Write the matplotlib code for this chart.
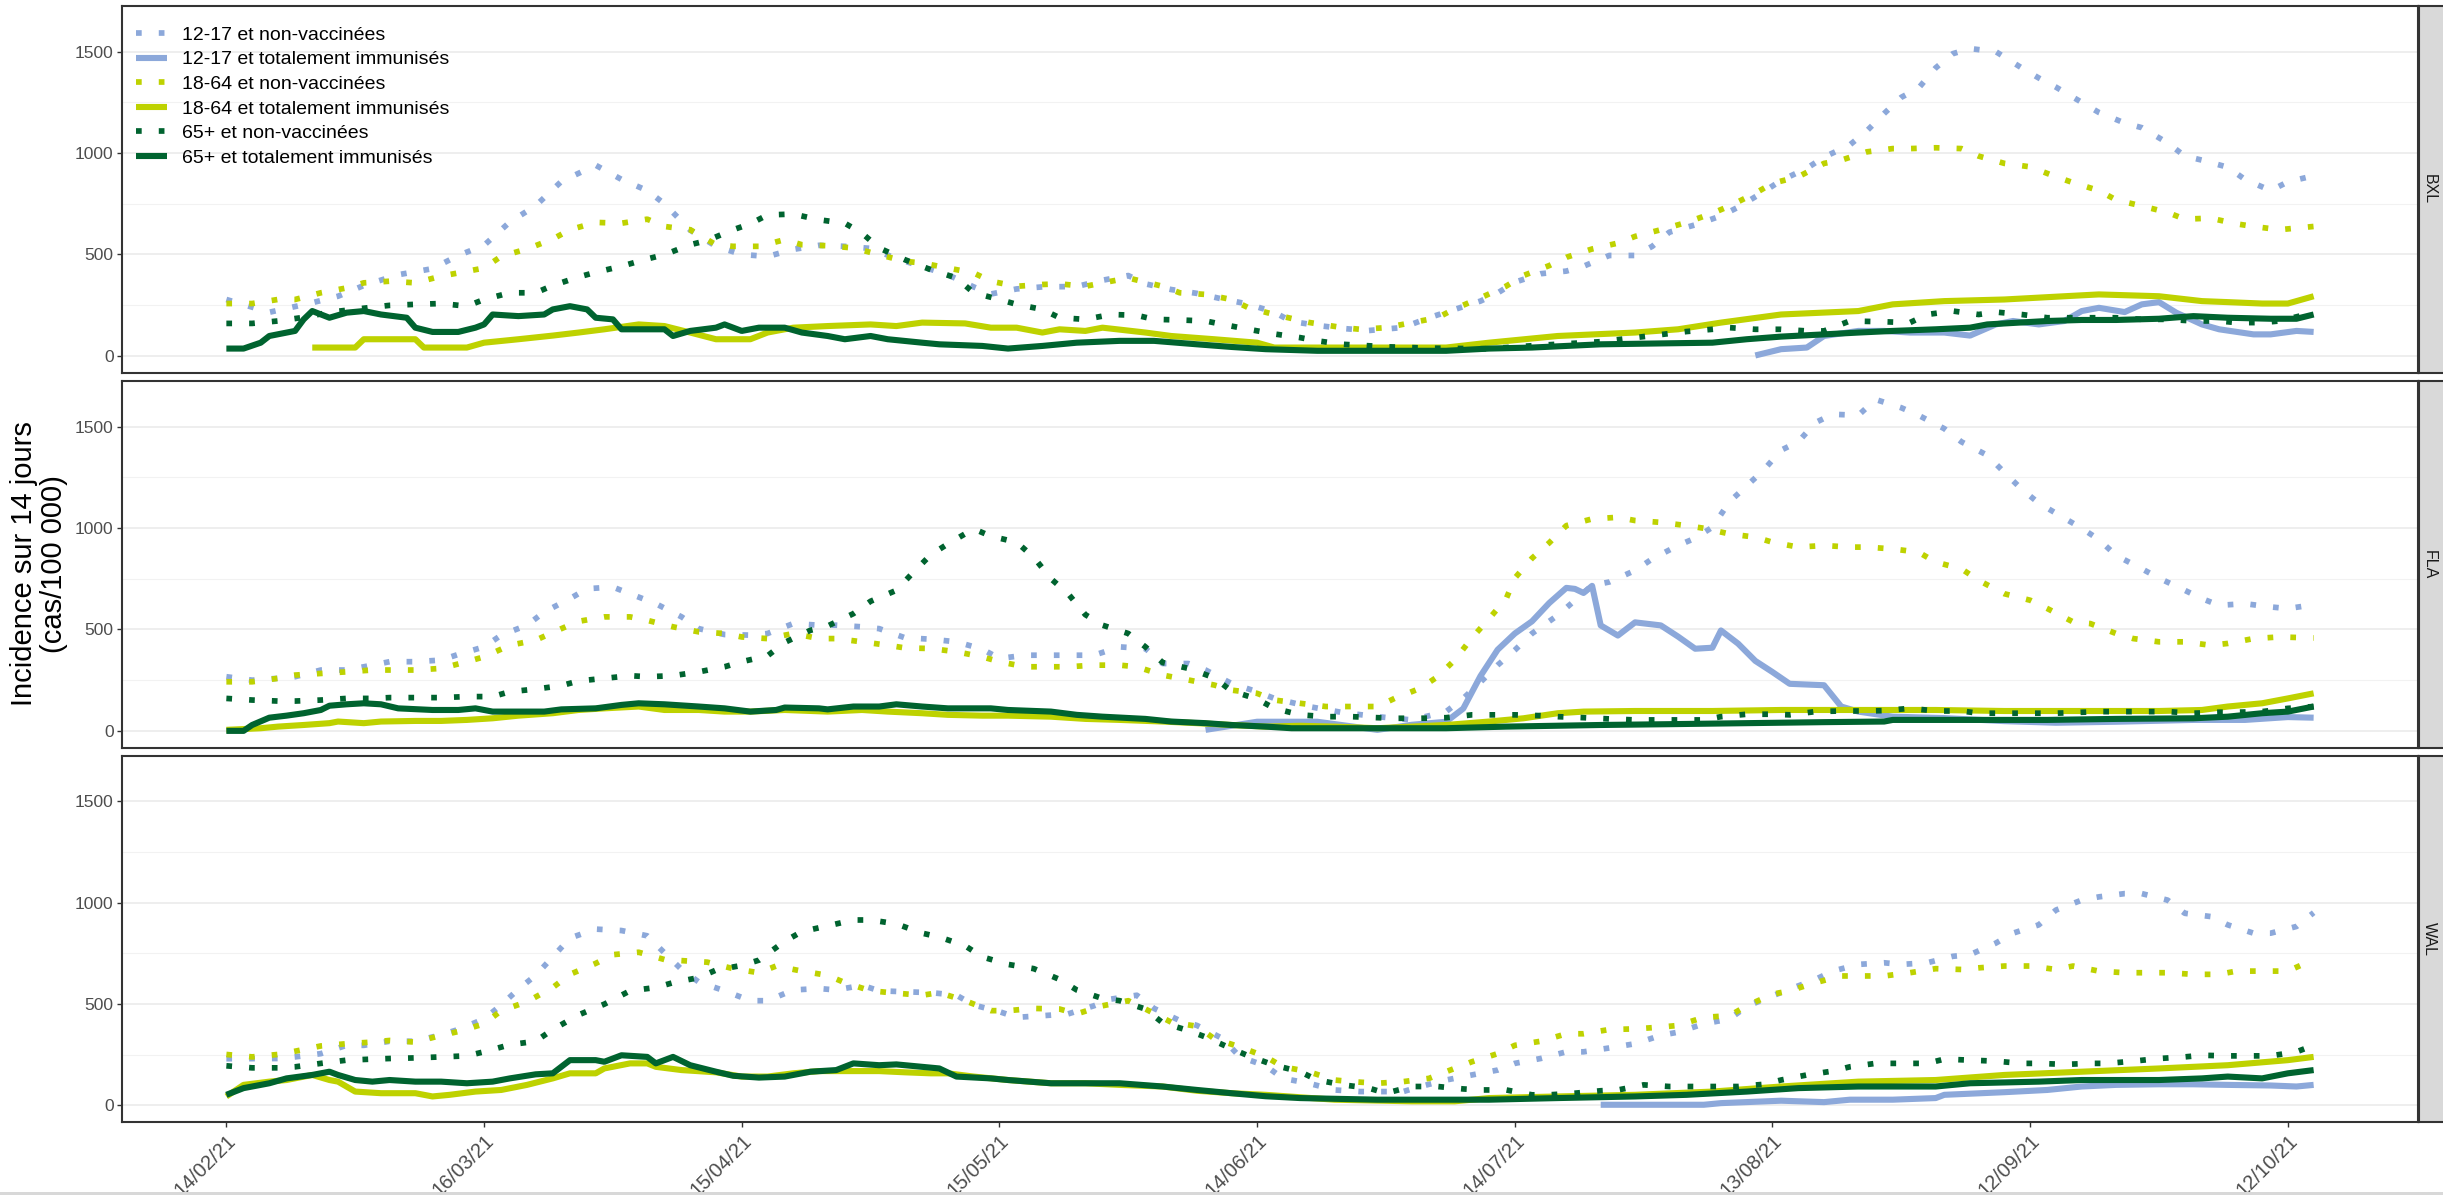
import numpy as np
import matplotlib
matplotlib.use('Agg')
import matplotlib.pyplot as plt
import matplotlib.dates as mdates
from matplotlib.ticker import FixedLocator
from matplotlib.patches import Rectangle

plt.rcParams['font.family'] = ['Liberation Sans', 'DejaVu Sans']

# jours comptés à partir du 14/02/21, incidence sur 14 jours pour 100 000
debut = np.datetime64('2021-02-14')
regions = ['BXL', 'FLA', 'WAL']
groupes = ['12-17 et non-vaccinées', '12-17 et totalement immunisés',
           '18-64 et non-vaccinées', '18-64 et totalement immunisés',
           '65+ et non-vaccinées', '65+ et totalement immunisés']
couleurs = ['#8CA8DA', '#8CA8DA', '#BED200', '#BED200', '#00632F', '#00632F']
vaccines = [False, True, False, True, False, True]
ticks_jours = [0, 30, 60, 90, 120, 150, 180, 210, 240]

# ---- BXL ----
bxl_1217_nv = [(0, 278), (5, 215), (10, 262), (13, 294), (16, 347), (20, 400), (24, 430), (27, 495), (30, 545),
               (33, 660), (36, 740), (39, 860), (43, 940), (46, 870), (49, 815), (51, 750), (54, 620), (57, 540),
               (60, 500), (63, 490), (66, 525), (69, 545), (72, 540), (75, 530), (78, 480), (81, 440), (84, 400),
               (87, 340), (89, 305), (92, 330), (95, 340), (99, 342), (102, 373), (105, 396), (107, 355), (110, 327),
               (113, 308), (116, 280), (119, 255), (122, 215), (124, 170), (127, 150), (130, 135), (133, 125),
               (137, 140), (140, 188), (143, 229), (146, 270), (148, 310), (150, 363), (153, 405), (156, 418),
               (158, 442), (161, 495), (164, 495), (166, 540), (168, 610), (171, 646), (174, 690), (176, 733),
               (179, 810), (181, 865), (184, 925), (186, 980), (189, 1040), (191, 1110), (193, 1195), (195, 1275),
               (197, 1320), (199, 1420), (201, 1490), (203, 1515), (206, 1500), (209, 1420), (211, 1370), (213, 1325),
               (216, 1250), (218, 1200), (221, 1148), (223, 1125), (226, 1050), (228, 985), (230, 965), (233, 930),
               (235, 870), (238, 815), (240, 858), (243, 888)]
bxl_1217_ti = [(178, 2), (181, 33), (184, 41), (186, 98), (190, 123), (193, 123), (196, 115), (200, 115), (203, 100),
               (206, 155), (208, 172), (211, 155), (214, 172), (216, 221), (218, 237), (221, 216), (223, 254),
               (225, 265), (227, 213), (230, 155), (232, 131), (236, 106), (238, 106), (241, 123), (243, 118)]
bxl_1864_nv = [(0, 258), (3, 258), (6, 278), (8, 278), (11, 311), (14, 335), (16, 360), (19, 368), (22, 360),
               (25, 393), (27, 409), (30, 433), (32, 491), (35, 527), (38, 576), (40, 622), (43, 658), (46, 654),
               (49, 674), (51, 638), (54, 622), (57, 548), (59, 540), (62, 540), (65, 573), (67, 548), (70, 543),
               (73, 532), (76, 499), (79, 466), (81, 458), (84, 433), (87, 409), (89, 368), (92, 343), (95, 352),
               (97, 355), (100, 343), (103, 368), (105, 384), (109, 343), (111, 311), (114, 303), (117, 278),
               (119, 237), (122, 204), (126, 165), (130, 139), (132, 131), (135, 139), (138, 164), (141, 188),
               (143, 232), (146, 286), (149, 344), (151, 396), (154, 445), (156, 486), (159, 527), (162, 556),
               (164, 589), (167, 622), (170, 658), (173, 703), (175, 739), (178, 802), (180, 851), (183, 883),
               (186, 949), (188, 965), (191, 1006), (194, 1022), (196, 1022), (199, 1026), (202, 1022), (204, 985),
               (207, 949), (210, 932), (213, 883), (215, 854), (218, 815), (220, 769), (223, 739), (226, 707),
               (228, 674), (231, 679), (234, 651), (236, 638), (239, 622), (243, 638)]
bxl_1864_ti = [(10, 41), (15, 41), (16, 82), (22, 82), (23, 41), (28, 41), (30, 65), (34, 82), (38, 100), (41, 115),
               (44, 131), (48, 155), (51, 147), (54, 115), (57, 82), (61, 82), (63, 115), (66, 139), (70, 147),
               (75, 155), (78, 147), (81, 164), (86, 160), (89, 139), (92, 139), (95, 115), (97, 131), (100, 123),
               (102, 139), (107, 115), (110, 98), (115, 82), (120, 65), (122, 41), (129, 41), (142, 41), (147, 65),
               (155, 98), (164, 115), (169, 131), (174, 164), (181, 204), (190, 221), (194, 254), (200, 270),
               (207, 278), (214, 294), (218, 303), (225, 294), (230, 270), (233, 265), (237, 258), (240, 258),
               (243, 294)]
bxl_65_nv = [(0, 160), (3, 160), (6, 172), (9, 190), (12, 215), (16, 235), (19, 249), (22, 254), (25, 258), (28, 245),
             (30, 278), (33, 311), (36, 311), (38, 347), (41, 389), (43, 412), (46, 442), (49, 478), (51, 499),
             (54, 548), (56, 569), (59, 622), (61, 651), (63, 695), (66, 699), (69, 671), (72, 654), (74, 605),
             (76, 532), (79, 474), (82, 425), (85, 384), (87, 311), (90, 278), (92, 254), (95, 229), (97, 188),
             (100, 180), (103, 204), (106, 200), (108, 180), (111, 177), (114, 172), (116, 155), (119, 131),
             (122, 108), (125, 90), (127, 74), (130, 57), (135, 45), (140, 38), (147, 35), (152, 50), (160, 70),
             (166, 100), (170, 120), (173, 131), (175, 139), (178, 131), (181, 131), (184, 123), (186, 123),
             (189, 172), (193, 168), (196, 164), (198, 204), (201, 221), (204, 204), (206, 216), (209, 204),
             (212, 188), (217, 188), (220, 188), (223, 180), (226, 180), (229, 172), (232, 172), (234, 164),
             (237, 164), (239, 172), (243, 213)]
bxl_65_ti = [(0, 36), (2, 36), (4, 65), (5, 98), (8, 123), (9, 180), (10, 221), (12, 188), (14, 213), (16, 221),
             (18, 204), (21, 188), (22, 139), (24, 118), (27, 118), (29, 139), (30, 155), (31, 204), (34, 196),
             (37, 204), (38, 229), (40, 245), (42, 229), (43, 188), (45, 180), (46, 131), (51, 131), (52, 98),
             (54, 123), (57, 139), (58, 155), (60, 123), (62, 139), (65, 139), (67, 115), (70, 98), (72, 82), (75, 98),
             (77, 82), (81, 65), (83, 57), (88, 49), (91, 36), (95, 49), (99, 65), (104, 74), (108, 74), (113, 57),
             (117, 44), (121, 33), (127, 25), (142, 25), (147, 36), (152, 41), (160, 57), (168, 62), (173, 65),
             (177, 82), (181, 95), (186, 106), (190, 115), (194, 123), (199, 131), (203, 139), (205, 155), (212, 172),
             (216, 177), (220, 177), (225, 183), (229, 196), (233, 188), (238, 183), (241, 183), (243, 204)]

# ---- FLA ----
fla_1217_nv = [(0, 267), (3, 250), (6, 259), (8, 267), (11, 300), (14, 300), (17, 324), (19, 341), (22, 341),
               (25, 349), (27, 377), (30, 414), (32, 472), (35, 521), (37, 586), (40, 652), (42, 701), (45, 709),
               (47, 676), (50, 627), (53, 562), (55, 504), (58, 475), (61, 472), (63, 480), (66, 529), (69, 521),
               (71, 521), (74, 513), (76, 504), (79, 459), (82, 452), (85, 439), (88, 403), (90, 357), (93, 373),
               (96, 373), (98, 373), (101, 373), (104, 414), (107, 406), (109, 332), (112, 332), (114, 300),
               (117, 234), (120, 193), (122, 160), (126, 120), (130, 90), (134, 70), (138, 54), (142, 95), (144, 160),
               (146, 240), (148, 324), (150, 398), (152, 480), (155, 570), (159, 717), (161, 734), (164, 791),
               (166, 848), (169, 914), (171, 950), (173, 1004), (175, 1130), (177, 1208), (179, 1287), (181, 1384),
               (183, 1425), (185, 1520), (187, 1561), (190, 1556), (192, 1634), (195, 1593), (197, 1556), (200, 1490),
               (202, 1425), (205, 1359), (207, 1274), (209, 1192), (211, 1123), (214, 1048), (216, 999), (218, 943),
               (220, 865), (223, 799), (225, 753), (228, 693), (230, 652), (232, 619), (235, 627), (238, 611),
               (240, 603), (243, 622)]
fla_1217_ti = [(114, 5), (120, 45), (127, 45), (134, 5), (138, 30), (142, 45), (144, 110), (146, 270), (148, 400),
               (150, 480), (152, 540), (154, 630), (156, 705), (157, 700), (158, 680), (159, 715), (160, 520),
               (162, 470), (164, 535), (167, 520), (169, 465), (171, 405), (173, 410), (174, 495), (176, 430),
               (178, 345), (180, 290), (182, 232), (186, 225), (188, 120), (190, 95), (194, 70), (200, 63), (207, 48),
               (213, 40), (220, 45), (229, 54), (235, 54), (240, 68), (243, 65)]
fla_1864_nv = [(0, 242), (3, 242), (6, 259), (8, 275), (11, 283), (14, 291), (17, 300), (19, 300), (22, 300),
               (25, 308), (28, 341), (30, 365), (33, 422), (36, 447), (39, 504), (41, 540), (44, 562), (47, 562),
               (49, 545), (52, 513), (55, 488), (58, 480), (60, 463), (63, 455), (66, 480), (69, 455), (71, 455),
               (74, 439), (77, 422), (79, 409), (82, 406), (85, 390), (88, 365), (90, 341), (93, 316), (96, 316),
               (98, 316), (101, 324), (104, 324), (106, 316), (109, 275), (112, 251), (115, 226), (117, 201),
               (120, 185), (122, 152), (125, 136), (128, 120), (131, 120), (134, 120), (136, 160), (139, 210),
               (141, 267), (143, 349), (145, 458), (147, 553), (149, 652), (150, 753), (152, 851), (154, 927),
               (156, 1012), (159, 1045), (162, 1053), (164, 1037), (167, 1028), (170, 1012), (172, 999), (175, 971),
               (178, 955), (180, 930), (183, 906), (186, 914), (189, 906), (191, 906), (194, 897), (197, 881),
               (199, 832), (202, 799), (204, 742), (207, 676), (210, 644), (212, 603), (215, 537), (217, 529),
               (220, 480), (222, 455), (225, 439), (228, 439), (231, 422), (233, 431), (236, 455), (239, 463),
               (243, 458)]
fla_1864_ti = [(0, 5), (4, 13), (6, 21), (9, 29), (12, 38), (13, 46), (16, 38), (18, 46), (22, 49), (25, 49), (28, 54),
               (31, 62), (34, 75), (38, 87), (41, 103), (44, 111), (48, 120), (51, 103), (55, 103), (58, 95), (61, 95),
               (65, 103), (70, 95), (74, 103), (77, 95), (81, 87), (84, 79), (88, 75), (91, 75), (96, 70), (100, 59),
               (104, 54), (109, 46), (113, 38), (117, 29), (121, 21), (125, 25), (129, 21), (134, 13), (138, 21),
               (142, 29), (147, 46), (151, 62), (155, 87), (158, 95), (164, 98), (173, 98), (181, 103), (190, 103),
               (199, 103), (207, 98), (216, 98), (225, 98), (230, 103), (233, 120), (237, 136), (240, 160), (243, 185)]
fla_65_nv = [(0, 160), (3, 152), (6, 147), (8, 147), (11, 152), (14, 160), (17, 160), (19, 164), (22, 164), (25, 164),
             (28, 169), (31, 169), (33, 193), (36, 206), (39, 223), (41, 246), (44, 259), (47, 272), (49, 267),
             (52, 272), (55, 291), (58, 316), (60, 341), (63, 370), (65, 436), (68, 496), (70, 517), (73, 578),
             (75, 639), (78, 693), (80, 783), (82, 868), (84, 922), (87, 996), (89, 960), (92, 930), (94, 856),
             (96, 750), (98, 676), (100, 573), (102, 521), (105, 480), (107, 414), (109, 337), (112, 308), (115, 262),
             (117, 197), (120, 157), (122, 111), (125, 79), (128, 70), (131, 70), (134, 65), (136, 62), (139, 62),
             (142, 65), (145, 79), (147, 79), (150, 79), (153, 75), (155, 70), (158, 65), (161, 59), (164, 54),
             (166, 54), (169, 54), (172, 54), (174, 70), (177, 82), (180, 82), (182, 79), (185, 95), (188, 98),
             (191, 98), (193, 100), (196, 111), (199, 98), (202, 98), (204, 87), (207, 87), (210, 87), (213, 87),
             (215, 90), (218, 95), (221, 95), (223, 95), (226, 95), (229, 87), (232, 92), (234, 92), (237, 95),
             (240, 111), (243, 120)]
fla_65_ti = [(0, 0), (2, 0), (3, 29), (5, 65), (7, 75), (9, 87), (11, 103), (12, 124), (14, 131), (16, 136), (18, 131),
             (20, 111), (24, 103), (27, 103), (29, 111), (31, 95), (33, 95), (37, 95), (39, 106), (43, 111), (46, 128),
             (48, 136), (51, 131), (55, 120), (58, 111), (61, 95), (64, 103), (65, 115), (69, 111), (70, 106),
             (73, 120), (76, 120), (78, 131), (81, 120), (84, 111), (89, 111), (91, 103), (96, 95), (99, 79), (102, 70),
             (107, 59), (110, 46), (114, 38), (117, 29), (121, 21), (124, 13), (142, 13), (149, 21), (160, 29),
             (168, 33), (177, 38), (186, 43), (193, 46), (194, 54), (203, 54), (212, 54), (220, 59), (229, 62),
             (233, 70), (237, 87), (240, 95), (243, 120)]

# ---- WAL ----
wal_1217_nv = [(0, 230), (6, 231), (8, 239), (11, 255), (14, 296), (16, 296), (19, 316), (22, 316), (25, 348),
               (27, 374), (30, 426), (32, 495), (34, 573), (36, 641), (38, 732), (40, 825), (43, 869), (46, 862),
               (49, 836), (51, 752), (53, 670), (55, 608), (58, 565), (61, 516), (63, 516), (66, 569), (69, 576),
               (71, 569), (74, 592), (76, 565), (79, 560), (82, 556), (85, 543), (87, 495), (90, 462), (92, 434),
               (95, 442), (98, 451), (101, 491), (103, 524), (106, 543), (108, 478), (111, 418), (113, 394), (116, 329),
               (118, 239), (121, 195), (123, 133), (126, 109), (129, 76), (132, 68), (134, 68), (137, 68), (139, 93),
               (142, 125), (145, 150), (148, 174), (150, 207), (153, 231), (156, 264), (158, 264), (161, 283),
               (164, 304), (167, 345), (169, 361), (172, 402), (175, 426), (177, 488), (180, 540), (182, 573),
               (185, 621), (187, 662), (190, 695), (193, 703), (195, 695), (198, 703), (201, 735), (203, 743),
               (206, 800), (208, 849), (211, 890), (213, 963), (216, 1012), (218, 1028), (221, 1044), (223, 1044),
               (226, 1012), (228, 947), (231, 931), (233, 890), (236, 849), (238, 849), (241, 882), (243, 950)]
wal_1217_ti = [(160, 3), (172, 3), (174, 11), (181, 23), (186, 16), (189, 28), (194, 28), (199, 36), (200, 52),
               (207, 65), (212, 76), (216, 93), (220, 101), (225, 104), (229, 104), (233, 101), (238, 98), (241, 93),
               (243, 101)]
wal_1864_nv = [(0, 251), (3, 239), (6, 251), (8, 267), (11, 293), (14, 304), (17, 312), (19, 320), (22, 312),
               (25, 345), (27, 364), (30, 402), (32, 467), (35, 511), (38, 581), (40, 646), (43, 700), (45, 743),
               (48, 755), (51, 719), (54, 711), (56, 706), (59, 674), (62, 654), (64, 687), (67, 662), (70, 641),
               (72, 605), (75, 565), (78, 553), (81, 543), (83, 556), (86, 516), (89, 467), (91, 467), (94, 478),
               (97, 475), (99, 451), (102, 491), (105, 516), (107, 475), (110, 410), (113, 390), (115, 329), (118, 288),
               (121, 240), (123, 190), (126, 166), (129, 125), (131, 117), (134, 109), (137, 117), (140, 133),
               (142, 166), (145, 215), (148, 255), (150, 296), (153, 316), (156, 353), (158, 353), (161, 374),
               (164, 377), (167, 386), (169, 394), (172, 434), (175, 442), (177, 491), (180, 548), (182, 565),
               (185, 605), (188, 638), (191, 638), (193, 638), (196, 654), (199, 674), (202, 670), (204, 678),
               (207, 687), (210, 687), (213, 670), (215, 687), (218, 662), (221, 654), (223, 654), (226, 654),
               (229, 646), (232, 646), (234, 662), (237, 662), (240, 662), (243, 719)]
wal_1864_ti = [(0, 44), (2, 101), (5, 117), (7, 125), (10, 150), (12, 125), (13, 117), (15, 68), (18, 60), (22, 60),
               (24, 44), (26, 52), (29, 68), (32, 76), (35, 101), (38, 133), (40, 158), (43, 158), (44, 182), (47, 207),
               (49, 207), (50, 190), (53, 174), (57, 163), (60, 142), (63, 142), (66, 158), (69, 169), (72, 169),
               (76, 169), (79, 163), (82, 158), (84, 158), (87, 142), (91, 125), (96, 109), (100, 109), (104, 101),
               (109, 93), (113, 72), (117, 60), (121, 52), (129, 28), (138, 20), (143, 20), (147, 36), (155, 44),
               (164, 52), (173, 68), (181, 93), (190, 117), (199, 125), (207, 150), (216, 166), (225, 182), (233, 198),
               (240, 223), (243, 239)]
wal_65_nv = [(0, 195), (3, 185), (6, 185), (8, 190), (11, 207), (14, 223), (17, 228), (19, 231), (22, 234), (25, 239),
             (28, 244), (30, 264), (33, 299), (36, 316), (38, 374), (41, 446), (44, 499), (47, 565), (50, 581),
             (52, 605), (55, 630), (57, 667), (60, 690), (62, 716), (65, 809), (67, 857), (70, 885), (73, 914),
             (75, 914), (78, 895), (81, 849), (83, 830), (86, 787), (88, 732), (91, 695), (94, 674), (97, 621),
             (99, 569), (102, 527), (104, 516), (107, 475), (109, 407), (112, 369), (114, 337), (117, 280), (119, 244),
             (122, 198), (125, 166), (127, 125), (130, 101), (133, 85), (135, 60), (138, 93), (141, 93), (144, 81),
             (146, 76), (149, 76), (152, 52), (154, 52), (157, 60), (160, 72), (162, 76), (165, 101), (168, 93),
             (171, 93), (173, 93), (176, 93), (179, 104), (181, 125), (184, 150), (187, 169), (189, 190), (192, 207),
             (195, 207), (198, 207), (200, 228), (203, 223), (206, 218), (209, 207), (211, 207), (214, 202),
             (217, 207), (219, 207), (222, 218), (225, 231), (228, 239), (230, 247), (233, 244), (236, 244),
             (238, 244), (241, 264), (243, 296)]
wal_65_ti = [(0, 52), (2, 85), (4, 101), (5, 109), (7, 133), (10, 150), (12, 166), (13, 150), (15, 125), (17, 117),
             (19, 125), (22, 117), (25, 117), (28, 109), (31, 117), (33, 133), (36, 153), (38, 158), (40, 223),
             (43, 223), (44, 215), (46, 247), (49, 239), (50, 207), (52, 239), (54, 198), (57, 166), (59, 146),
             (62, 137), (65, 142), (68, 166), (71, 174), (73, 207), (76, 198), (78, 202), (81, 190), (83, 182),
             (85, 142), (89, 133), (91, 125), (96, 109), (100, 109), (104, 109), (109, 93), (113, 76), (117, 60),
             (121, 45), (125, 36), (134, 28), (147, 28), (155, 36), (164, 44), (170, 52), (177, 68), (183, 85),
             (190, 93), (199, 93), (203, 109), (211, 117), (216, 125), (225, 125), (230, 133), (233, 142), (237, 133),
             (240, 158), (243, 174)]

series = {
    'BXL': [bxl_1217_nv, bxl_1217_ti, bxl_1864_nv, bxl_1864_ti, bxl_65_nv, bxl_65_ti],
    'FLA': [fla_1217_nv, fla_1217_ti, fla_1864_nv, fla_1864_ti, fla_65_nv, fla_65_ti],
    'WAL': [wal_1217_nv, wal_1217_ti, wal_1864_nv, wal_1864_ti, wal_65_nv, wal_65_ti],
}


def to_dates(jours):
    return debut + np.asarray(jours).astype('timedelta64[D]')


W, H = 2443, 1195
fig = plt.figure(figsize=(W / 100, H / 100), dpi=100, facecolor='white')

x0 = mdates.date2num(debut)
dernier = max(j for s in series.values() for serie in s for j, _ in serie)
marge = 0.05 * dernier

haut_panneau = 366.5
hauts = [6, 381, 755.5]
axes = []
for i, reg in enumerate(regions):
    top = hauts[i]
    ax = fig.add_axes([122 / W, 1 - (top + haut_panneau) / H, 2296 / W, haut_panneau / H])
    axes.append(ax)
    for serie, col, vac, lab in zip(series[reg], couleurs, vaccines, groupes):
        jours = [j for j, _ in serie]
        vals = [v for _, v in serie]
        if vac:
            ax.plot(to_dates(jours), vals, color=col, lw=4.4, solid_capstyle='butt',
                    solid_joinstyle='round', label=lab)
        else:
            ax.plot(to_dates(jours), vals, color=col, lw=4.1, linestyle=(0, (1, 3)),
                    dash_capstyle='butt', label=lab)

    ax.set_xlim(x0 - marge, x0 + dernier + marge)
    ax.set_ylim(-82, 1725)
    ax.set_yticks([0, 500, 1000, 1500])
    ax.yaxis.set_minor_locator(FixedLocator([250, 750, 1250]))
    ax.grid(axis='y', which='major', color='#EBEBEB', lw=1.2)
    ax.grid(axis='y', which='minor', color='#F2F2F2', lw=0.8)
    ax.set_axisbelow(True)
    for sp in ax.spines.values():
        sp.set_color('#333333')
        sp.set_linewidth(1.5)
    ax.tick_params(axis='y', which='major', length=3.5, width=1.0, color='#333333',
                   labelsize=12.5, labelcolor='#4D4D4D', pad=2.5)
    ax.tick_params(axis='y', which='minor', length=0)

    ax.xaxis.set_major_locator(FixedLocator(mdates.date2num(to_dates(ticks_jours))))
    ax.xaxis.set_major_formatter(mdates.DateFormatter('%d/%m/%y'))
    if i < 2:
        ax.tick_params(axis='x', length=0, labelbottom=False)
    else:
        ax.tick_params(axis='x', length=3.5, width=1.0, color='#333333',
                       labelsize=14.5, labelcolor='#4D4D4D', pad=3)
        for lbl in ax.get_xticklabels():
            lbl.set_rotation(45)
            lbl.set_ha('right')
            lbl.set_rotation_mode('anchor')

    # bandeau de facette à droite
    st = fig.add_axes([2419 / W, 1 - (top + haut_panneau) / H, 30 / W, haut_panneau / H])
    st.set_facecolor('#D9D9D9')
    st.set_xticks([])
    st.set_yticks([])
    for sp in st.spines.values():
        sp.set_color('#333333')
        sp.set_linewidth(1.5)
    st.text(0.35, 0.5, reg, rotation=-90, ha='center', va='center', fontsize=11.5,
            color='#1A1A1A', transform=st.transAxes)

axes[0].legend(loc='upper left', bbox_to_anchor=(0.006, 0.945), frameon=False, fontsize=14,
               handlelength=1.6, handletextpad=0.8, labelspacing=0.36, borderaxespad=0, borderpad=0)

fig.text(39 / W, 1 - 564 / H, 'Incidence sur 14 jours\n(cas/100 000)', rotation=90,
         ha='center', va='center', fontsize=21, linespacing=1.1)

fig.add_artist(Rectangle((0, 0), 1, 3 / H, transform=fig.transFigure, color='#D8D8D8', lw=0))

fig.savefig('out.png', dpi=100, facecolor='white')
